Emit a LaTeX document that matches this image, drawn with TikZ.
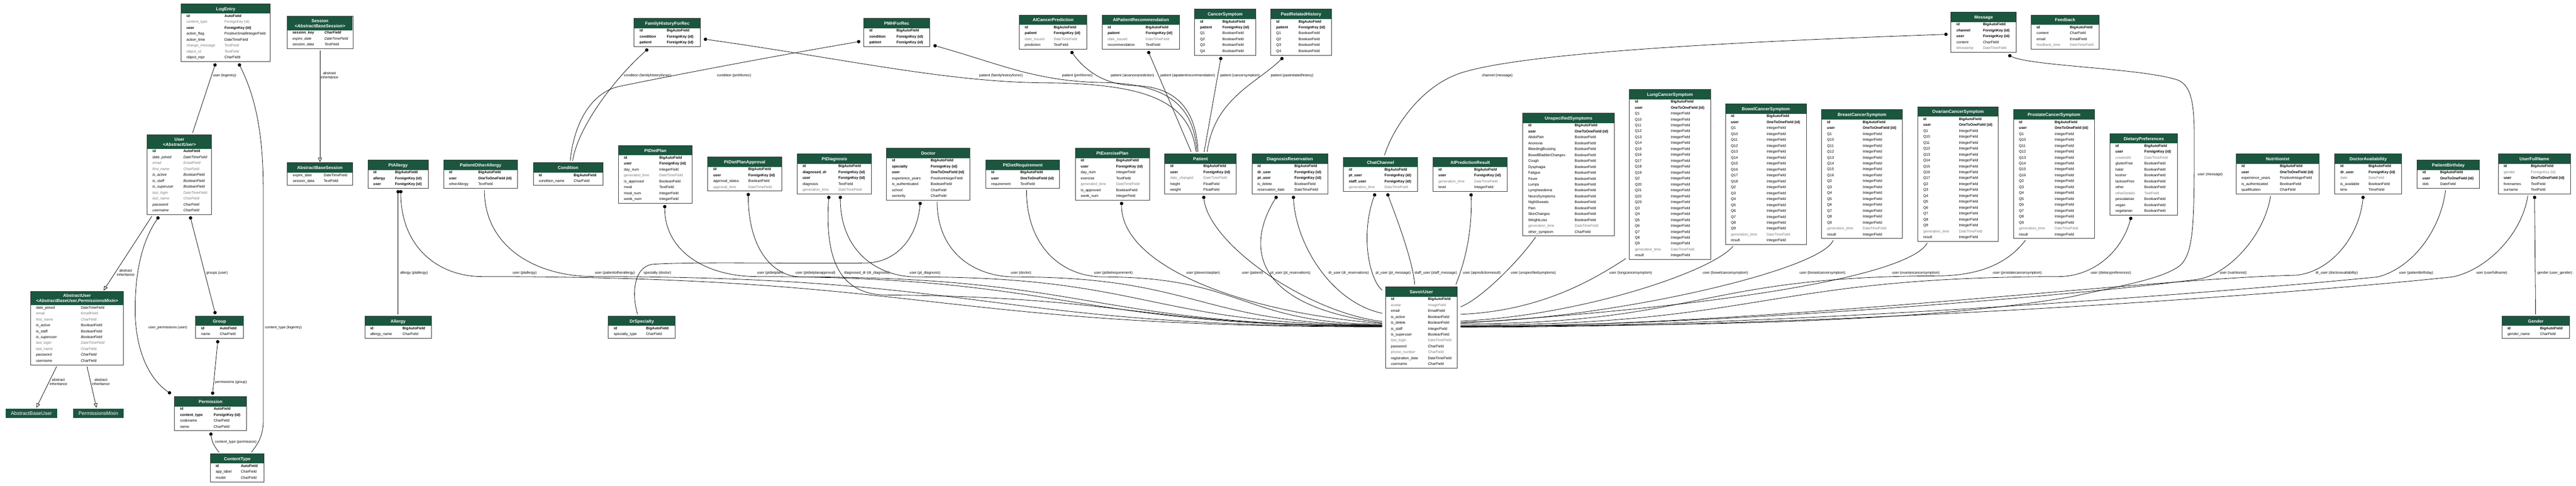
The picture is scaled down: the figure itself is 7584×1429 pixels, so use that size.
\documentclass[tikz,border=0pt]{standalone}
\usepackage{fontspec}
\setmainfont{Liberation Sans}
\usetikzlibrary{arrows.meta}

\definecolor{headgreen}{HTML}{1B563F}
\definecolor{fieldgray}{HTML}{7B7B7B}

% table: name, left, top, width, type column, extra header, title, subtitle, rows
\newcommand{\erbox}[9]{%
  \foreach \rname/\rtype/\rstyle [count = \k] in {#9} {
    \node (#1-n\k) at (#2 + 16, #3 + 39.8 + #6 + 17.4 * \k - 17.4) [erfield\rstyle] {\rname};
    \node (#1-t\k) at (#2 + #5, #3 + 39.8 + #6 + 17.4 * \k - 17.4) [erfield\rstyle] {\rtype};
    \xdef\errows{\k}
  }
  \fill [erhead] (#2 + 0.8, #3 + 0.8) rectangle (#2 + #4 - 0.8, #3 + 29 + #6);
  \node (#1-title) at (#2 + #4 / 2, #3 + 19.6 - #6 / 6) [ertitle] {#7};
  \node (#1-sub) at (#2 + #4 / 2, #3 + 32.6) [ertitle] {#8};
  \node (#1) at (#2, #3) [erframe, minimum width = #4pt, minimum height = {(31 + #6 + 17.4 * \errows) * 1pt}] {};
}
\newcommand{\erplain}[5]{%
  \node (#1) at (#2, #3) [erplainbox, minimum width = #4pt] {#5};
}

\begin{document}
\begin{tikzpicture}[x = 1pt, y = -1pt,
  erfield/.style = {inner sep = 0pt, anchor = base west, font = \fontsize{10.7}{12}\selectfont},
  erfieldn/.style = {erfield},
  erfieldb/.style = {erfield, font = \fontsize{10.7}{12}\selectfont\bfseries},
  erfieldi/.style = {erfield, font = \fontsize{10.7}{12}\selectfont\itshape},
  erfieldbi/.style = {erfield, font = \fontsize{10.7}{12}\selectfont\bfseries\itshape},
  erfieldg/.style = {erfield, text = fieldgray},
  erfieldgi/.style = {erfieldi, text = fieldgray},
  erframe/.style = {draw = black!80, line width = 1.5pt, inner sep = 0pt, outer sep = 0pt, anchor = north west},
  erhead/.style = {fill = headgreen},
  ertitle/.style = {text = white, inner sep = 0pt, anchor = base, font = \fontsize{13}{15}\selectfont\bfseries},
  erplainbox/.style = {fill = headgreen, text = white, inner sep = 0pt, outer sep = 0pt, anchor = north west, minimum height = 27pt, font = \fontsize{15}{17}\selectfont},
  fkdot/.style = {circle, fill = black, inner sep = 0pt, minimum size = 10pt},
  rel/.style = {line width = 1.2pt},
  inherit/.style = {line width = 1.2pt, -{Triangle[open, length = 13pt, width = 11pt]}},
  rellabel/.style = {inner sep = 0pt, anchor = base west, font = \fontsize{10.6}{12}\selectfont},
  inheritlabel/.style = {inner sep = 0pt, align = center, font = \fontsize{10.6}{12}\selectfont}]
\fill [white] (0, 0) rectangle (7584, 1429);
\useasboundingbox (0, 0) rectangle (7584, 1429);
%\draw [very thin, color = gray, step = 100] (0, 0) grid (7584, 1429);

% django tables
\erbox{logentry}{533}{11}{263}{128}{0}{LogEntry}{}{id/AutoField/b, content\_type/ForeignKey (id)/g, user/ForeignKey (id)/b, action\_flag/PositiveSmallIntegerField/n, action\_time/DateTimeField/n, change\_message/TextField/g, object\_id/TextField/g, object\_repr/CharField/n}
\erbox{user}{433}{397}{190}{107}{12}{User}{\textit{<AbstractUser>}}{id/AutoField/b, date\_joined/DateTimeField/i, email/EmailField/gi, first\_name/CharField/gi, is\_active/BooleanField/i, is\_staff/BooleanField/i, is\_superuser/BooleanField/i, last\_login/DateTimeField/gi, last\_name/CharField/gi, password/CharField/i, username/CharField/i}
\erbox{abstractuser}{90}{857}{274}{148}{12}{AbstractUser}{\textit{<AbstractBaseUser,PermissionsMixin>}}{date\_joined/DateTimeField/n, email/EmailField/g, first\_name/CharField/g, is\_active/BooleanField/n, is\_staff/BooleanField/n, is\_superuser/BooleanField/i, last\_login/DateTimeField/gi, last\_name/CharField/g, password/CharField/i, username/CharField/n}
\erplain{abstractbaseuser}{16}{1203}{153}{AbstractBaseUser}
\erplain{permissionsmixin}{215}{1203}{149}{PermissionsMixin}
\erbox{group}{576}{930}{140}{71}{0}{Group}{}{id/AutoField/b, name/CharField/n}
\erbox{permission}{514}{1167}{212}{115}{0}{Permission}{}{id/AutoField/b, content\_type/ForeignKey (id)/b, codename/CharField/n, name/CharField/n}
\erbox{contenttype}{619}{1335}{159}{90}{0}{ContentType}{}{id/AutoField/b, app\_label/CharField/n, model/CharField/n}
\erbox{session}{845}{48}{194}{110}{12}{Session}{\textit{<AbstractBaseSession>}}{session\_key/CharField/bi, expire\_date/DateTimeField/i, session\_data/TextField/i}
\erbox{abstractbasesession}{846}{479}{192}{107}{0}{AbstractBaseSession}{}{expire\_date/DateTimeField/n, session\_data/TextField/n}

% app tables
\erbox{ptallergy}{1083}{471}{178}{80}{0}{PtAllergy}{}{id/BigAutoField/b, allergy/ForeignKey (id)/b, user/ForeignKey (id)/b}
\erbox{allergy}{1074}{930}{196}{111}{0}{Allergy}{}{id/BigAutoField/b, allergy\_name/CharField/n}
\erbox{patientotherallergy}{1306}{471}{218}{102}{0}{PatientOtherAllergy}{}{id/BigAutoField/b, user/OneToOneField (id)/b, otherAllergy/TextField/n}
\erbox{condition}{1570}{479}{205}{119}{0}{Condition}{}{id/BigAutoField/b, condition\_name/CharField/n}
\erbox{familyhistoryforrec}{1867}{54}{195}{96}{0}{FamilyHistoryForRec}{}{id/BigAutoField/b, condition/ForeignKey (id)/b, patient/ForeignKey (id)/b}
\erbox{ptdietplan}{1821}{428}{217}{120}{0}{PtDietPlan}{}{id/BigAutoField/b, user/ForeignKey (id)/b, day\_num/IntegerField/n, generated\_time/DateTimeField/g, is\_approved/BooleanField/n, meal/TextField/n, meal\_num/IntegerField/n, week\_num/IntegerField/n}
\erbox{drspecialty}{1791}{930}{197}{111}{0}{DrSpecialty}{}{id/BigAutoField/b, specialty\_type/CharField/n}
\erbox{ptdietplanapproval}{2084}{462}{217}{119}{0}{PtDietPlanApproval}{}{id/BigAutoField/b, user/ForeignKey (id)/b, approval\_status/BooleanField/n, approval\_time/DateTimeField/g}
\erbox{ptdiagnosis}{2347}{453}{219}{121}{0}{PtDiagnosis}{}{id/BigAutoField/b, diagnosed\_dr/ForeignKey (id)/b, user/ForeignKey (id)/b, diagnosis/TextField/n, generation\_time/DateTimeField/g}
\erbox{doctor}{2610}{436}{246}{130}{0}{Doctor}{}{id/BigAutoField/b, specialty/ForeignKey (id)/b, user/OneToOneField (id)/b, experience\_years/PositiveIntegerField/n, is\_authenticated/BooleanField/n, school/CharField/n, seniority/CharField/n}
\erbox{pmhforrec}{2543}{54}{194}{96}{0}{PMHForRec}{}{id/BigAutoField/b, condition/ForeignKey (id)/b, patient/ForeignKey (id)/b}
\erbox{ptdietrequirement}{2902}{471}{218}{102}{0}{PtDietRequirement}{}{id/BigAutoField/b, user/OneToOneField (id)/b, requirement/TextField/n}
\erbox{ptexerciseplan}{3166}{436}{218}{120}{0}{PtExercisePlan}{}{id/BigAutoField/b, user/ForeignKey (id)/b, day\_num/IntegerField/n, exercise/TextField/n, generated\_time/DateTimeField/g, is\_approved/BooleanField/n, week\_num/IntegerField/n}
\erbox{aicancerprediction}{3001}{44}{199}{101}{0}{AICancerPrediction}{}{id/BigAutoField/b, patient/ForeignKey (id)/b, date\_issued/DateTimeField/g, prediction/TextField/n}
\erbox{aipatientrecommendation}{3245}{44}{228}{128}{0}{AIPatientRecommendation}{}{id/BigAutoField/b, patient/ForeignKey (id)/b, date\_issued/DateTimeField/g, recommendation/TextField/n}
\erbox{cancersymptom}{3517}{27}{180}{82}{0}{CancerSymptom}{}{id/BigAutoField/b, patient/ForeignKey (id)/b, Q1/BooleanField/n, Q2/BooleanField/n, Q3/BooleanField/n, Q4/BooleanField/n}
\erbox{pastrelatedhistory}{3741}{27}{179}{82}{0}{PastRelatedHistory}{}{id/BigAutoField/b, patient/ForeignKey (id)/b, Q1/BooleanField/n, Q2/BooleanField/n, Q3/BooleanField/n, Q4/BooleanField/n}
\erbox{patient}{3429}{453}{211}{114}{0}{Patient}{}{id/BigAutoField/b, user/ForeignKey (id)/b, date\_changed/DateTimeField/g, height/FloatField/n, weight/FloatField/n}
\erbox{diagnosisreservation}{3686}{453}{223}{125}{0}{DiagnosisReservation}{}{id/BigAutoField/b, dr\_user/ForeignKey (id)/b, pt\_user/ForeignKey (id)/b, is\_delete/BooleanField/n, reservation\_date/DateTimeField/n}
\erbox{chatchannel}{3955}{463}{219}{121}{0}{ChatChannel}{}{id/BigAutoField/b, pt\_user/ForeignKey (id)/b, staff\_user/ForeignKey (id)/b, generation\_time/DateTimeField/g}
\erbox{aipredictionresult}{4219}{463}{219}{121}{0}{AIPredictionResult}{}{id/BigAutoField/b, user/ForeignKey (id)/b, generation\_time/DateTimeField/g, level/IntegerField/n}
\erbox{savoiruser}{4079}{844}{211}{125}{0}{SavoirUser}{}{id/BigAutoField/b, avatar/ImageField/g, email/EmailField/n, is\_active/BooleanField/n, is\_delete/BooleanField/n, is\_staff/IntegerField/n, is\_superuser/BooleanField/n, last\_login/DateTimeField/g, password/CharField/n, phone\_number/CharField/g, registration\_date/DateTimeField/n, username/CharField/n}
\erbox{unspecifiedsymptoms}{4483}{333}{270}{153}{0}{UnspecifiedSymptoms}{}{id/BigAutoField/b, user/OneToOneField (id)/b, AbdoPain/BooleanField/n, Anorexia/BooleanField/n, BleedingBruising/BooleanField/n, BowelBladderChanges/BooleanField/n, Cough/BooleanField/n, Dysphagia/BooleanField/n, Fatigue/BooleanField/n, Fever/BooleanField/n, Lumps/BooleanField/n, Lymphoedema/BooleanField/n, NeuroSymptoms/BooleanField/n, NightSweats/BooleanField/n, Pain/BooleanField/n, SkinChanges/BooleanField/n, WeightLoss/BooleanField/n, generation\_time/DateTimeField/g, other\_symptom/CharField/n}
\erbox{lungcancersymptom}{4797}{263}{239}{122}{0}{LungCancerSymptom}{}{id/BigAutoField/b, user/OneToOneField (id)/b, Q1/IntegerField/n, Q10/IntegerField/n, Q11/IntegerField/n, Q12/IntegerField/n, Q13/IntegerField/n, Q14/IntegerField/n, Q15/IntegerField/n, Q16/IntegerField/n, Q17/IntegerField/n, Q18/IntegerField/n, Q19/IntegerField/n, Q2/IntegerField/n, Q20/IntegerField/n, Q21/IntegerField/n, Q22/IntegerField/n, Q23/IntegerField/n, Q3/IntegerField/n, Q4/IntegerField/n, Q5/IntegerField/n, Q6/IntegerField/n, Q7/IntegerField/n, Q8/IntegerField/n, Q9/IntegerField/n, generation\_time/DateTimeField/g, result/IntegerField/n}
\erbox{bowelcancersymptom}{5080}{306}{238}{121}{0}{BowelCancerSymptom}{}{id/BigAutoField/b, user/OneToOneField (id)/b, Q1/IntegerField/n, Q10/IntegerField/n, Q11/IntegerField/n, Q12/IntegerField/n, Q13/IntegerField/n, Q14/IntegerField/n, Q15/IntegerField/n, Q16/IntegerField/n, Q17/IntegerField/n, Q18/IntegerField/n, Q2/IntegerField/n, Q3/IntegerField/n, Q4/IntegerField/n, Q5/IntegerField/n, Q6/IntegerField/n, Q7/IntegerField/n, Q8/IntegerField/n, Q9/IntegerField/n, generation\_time/DateTimeField/g, result/IntegerField/n}
\erbox{breastcancersymptom}{5363}{323}{238}{121}{0}{BreastCancerSymptom}{}{id/BigAutoField/b, user/OneToOneField (id)/b, Q1/IntegerField/n, Q10/IntegerField/n, Q11/IntegerField/n, Q12/IntegerField/n, Q13/IntegerField/n, Q14/IntegerField/n, Q15/IntegerField/n, Q16/IntegerField/n, Q2/IntegerField/n, Q3/IntegerField/n, Q4/IntegerField/n, Q5/IntegerField/n, Q6/IntegerField/n, Q7/IntegerField/n, Q8/IntegerField/n, Q9/IntegerField/n, generation\_time/DateTimeField/g, result/IntegerField/n}
\erbox{ovariancancersymptom}{5646}{314}{237}{121}{0}{OvarianCancerSymptom}{}{id/BigAutoField/b, user/OneToOneField (id)/b, Q1/IntegerField/n, Q10/IntegerField/n, Q11/IntegerField/n, Q12/IntegerField/n, Q13/IntegerField/n, Q14/IntegerField/n, Q15/IntegerField/n, Q16/IntegerField/n, Q17/IntegerField/n, Q2/IntegerField/n, Q3/IntegerField/n, Q4/IntegerField/n, Q5/IntegerField/n, Q6/IntegerField/n, Q7/IntegerField/n, Q8/IntegerField/n, Q9/IntegerField/n, generation\_time/DateTimeField/g, result/IntegerField/n}
\erbox{prostatecancersymptom}{5928}{323}{238}{121}{0}{ProstateCancerSymptom}{}{id/BigAutoField/b, user/OneToOneField (id)/b, Q1/IntegerField/n, Q10/IntegerField/n, Q11/IntegerField/n, Q12/IntegerField/n, Q13/IntegerField/n, Q14/IntegerField/n, Q15/IntegerField/n, Q16/IntegerField/n, Q2/IntegerField/n, Q3/IntegerField/n, Q4/IntegerField/n, Q5/IntegerField/n, Q6/IntegerField/n, Q7/IntegerField/n, Q8/IntegerField/n, Q9/IntegerField/n, generation\_time/DateTimeField/g, result/IntegerField/n}
\erbox{message}{5744}{36}{192}{94}{0}{Message}{}{id/BigAutoField/b, channel/ForeignKey (id)/b, user/ForeignKey (id)/b, content/CharField/n, timestamp/DateTimeField/g}
\erbox{feedback}{5980}{44}{200}{114}{0}{Feedback}{}{id/BigAutoField/b, content/CharField/n, email/EmailField/n, feedback\_time/DateTimeField/g}
\erbox{dietarypreferences}{6212}{393}{199}{101}{0}{DietaryPreferences}{}{id/BigAutoField/b, user/ForeignKey (id)/b, createdAt/DateTimeField/g, glutenFree/BooleanField/n, halal/BooleanField/n, kosher/BooleanField/n, lactoseFree/BooleanField/n, other/BooleanField/n, otherDetails/TextField/g, pescatarian/BooleanField/n, vegan/BooleanField/n, vegetarian/BooleanField/n}
\erbox{nutritionist}{6583}{453}{245}{129}{0}{Nutritionist}{}{id/BigAutoField/b, user/OneToOneField (id)/b, experience\_years/PositiveIntegerField/n, is\_authenticated/BooleanField/n, qualification/CharField/n}
\erbox{doctoravailability}{6874}{453}{196}{99}{0}{DoctorAvailability}{}{id/BigAutoField/b, dr\_user/ForeignKey (id)/b, date/DateField/g, is\_available/BooleanField/n, time/TimeField/n}
\erbox{patientbirthday}{7116}{471}{184}{68}{0}{PatientBirthday}{}{id/BigAutoField/b, user/OneToOneField (id)/b, dob/DateField/n}
\erbox{userfullname}{7355}{453}{213}{96}{0}{UserFullName}{}{id/BigAutoField/b, gender/ForeignKey (id)/g, user/OneToOneField (id)/b, forenames/TextField/n, surname/TextField/n}
\erbox{gender}{7366}{930}{199}{112}{0}{Gender}{}{id/BigAutoField/b, gender\_name/CharField/n}

% dots
\node (logentry-user) at ([shift = {(100, 10)}]logentry.south west) [fkdot] {};
\node (logentry-ct) at ([shift = {(172, 10)}]logentry.south west) [fkdot] {};
\node (user-perm) at ([shift = {(32, 10)}]user.south west) [fkdot] {};
\node (user-groups) at ([shift = {(128, 10)}]user.south west) [fkdot] {};
\node (group-users) at ([shift = {(57, -10)}]group.north west) [fkdot] {};
\node (group-perm) at ([shift = {(65, 10)}]group.south west) [fkdot] {};
\node (perm-group) at ([shift = {(112, -10)}]permission.north west) [fkdot] {};
\node (perm-user) at ([shift = {(-15, -11)}]permission.north west) [fkdot] {};
\node (perm-ct) at ([shift = {(107, 10)}]permission.south west) [fkdot] {};
\node (ptallergy-allergy) at ([shift = {(89, 10)}]ptallergy.south west) [fkdot] {};
\node (ptallergy-user) at ([shift = {(97, 10)}]ptallergy.south west) [fkdot] {};
\node (fh-condition) at ([shift = {(37, 10)}]familyhistoryforrec.south west) [fkdot] {};
\node (fh-patient) at ([shift = {(15, 20)}]familyhistoryforrec.east) [fkdot] {};
\node (pmh-condition) at ([shift = {(-15, 27)}]pmhforrec.west) [fkdot] {};
\node (pmh-patient) at ([shift = {(16, 39)}]pmhforrec.east) [fkdot] {};
\node (ptdietplan-user) at ([shift = {(136, 10)}]ptdietplan.south west) [fkdot] {};
\node (approval-user) at ([shift = {(119, 10)}]ptdietplanapproval.south west) [fkdot] {};
\node (diagnosis-dr) at ([shift = {(93, 10)}]ptdiagnosis.south west) [fkdot] {};
\node (diagnosis-user) at ([shift = {(127, 10)}]ptdiagnosis.south west) [fkdot] {};
\node (doctor-specialty) at ([shift = {(99, 10)}]doctor.south west) [fkdot] {};
\node (exercise-user) at ([shift = {(136, 10)}]ptexerciseplan.south west) [fkdot] {};
\node (aicancer-patient) at ([shift = {(155, 10)}]aicancerprediction.south west) [fkdot] {};
\node (airec-patient) at ([shift = {(137, 10)}]aipatientrecommendation.south west) [fkdot] {};
\node (cancersymptom-patient) at ([shift = {(77, 10)}]cancersymptom.south west) [fkdot] {};
\node (pasthistory-patient) at ([shift = {(33, 10)}]pastrelatedhistory.south west) [fkdot] {};
\node (patient-user) at ([shift = {(115, 10)}]patient.south west) [fkdot] {};
\node (reservation-pt) at ([shift = {(71, 10)}]diagnosisreservation.south west) [fkdot] {};
\node (reservation-dr) at ([shift = {(122, 10)}]diagnosisreservation.south west) [fkdot] {};
\node (channel-pt) at ([shift = {(92, 10)}]chatchannel.south west) [fkdot] {};
\node (channel-staff) at ([shift = {(131, 10)}]chatchannel.south west) [fkdot] {};
\node (prediction-user) at ([shift = {(112, 10)}]aipredictionresult.south west) [fkdot] {};
\node (message-channel) at ([shift = {(-15, 6)}]message.west) [fkdot] {};
\node (message-user) at ([shift = {(173, 10)}]message.south west) [fkdot] {};
\node (dietary-user) at ([shift = {(61, 10)}]dietarypreferences.south west) [fkdot] {};
\node (availability-dr) at ([shift = {(83, 10)}]doctoravailability.south west) [fkdot] {};
\node (fullname-gender) at ([shift = {(107, 10)}]userfullname.south west) [fkdot] {};

% django relations
\draw [rel] (logentry-user) -- ([shift = {(134, -6)}]user.north west);
\draw [rel] (logentry-ct) .. controls (760, 300) and (775, 420) .. (775, 560) -- (775, 1240) .. controls (775, 1290) and (752, 1315) .. ([shift = {(121, -4)}]contenttype.north west);
\draw [rel] (user-groups) -- (group-users);
\draw [rel] (user-perm) .. controls (405, 730) and (398, 840) .. (398, 912) .. controls (398, 1040) and (445, 1120) .. (perm-user);
\draw [rel] (group-perm) -- (perm-group);
\draw [rel] (perm-ct) .. controls (624, 1305) and (636, 1320) .. ([shift = {(26, -4)}]contenttype.north west);
\draw [inherit] ([shift = {(14, 5)}]user.south west) -- ([shift = {(215, -2)}]abstractuser.north west);
\draw [inherit] ([shift = {(77, 4)}]abstractuser.south west) -- ([shift = {(91, -3)}]abstractbaseuser.north west);
\draw [inherit] ([shift = {(166, 4)}]abstractuser.south west) -- ([shift = {(69, -3)}]permissionsmixin.north west);
\draw [inherit] ([shift = {(97, 5)}]session.south west) -- ([shift = {(96, -2)}]abstractbasesession.north west);

% app relations
\draw [rel] (ptallergy-allergy) -- ([shift = {(98, -5)}]allergy.north west);
\draw [rel] (fh-condition) .. controls (1800, 240) and (1700, 380) .. ([shift = {(116, -6)}]condition.north west);
\draw [rel] (pmh-condition) .. controls (2250, 170) and (1950, 228) .. (1820, 255) .. controls (1720, 280) and (1685, 400) .. ([shift = {(109, -6)}]condition.north west);
\draw [rel] (doctor-specialty) .. controls (2700, 700) and (2640, 772) .. (2550, 774) .. controls (2300, 776) and (2020, 770) .. (1920, 778) .. controls (1868, 786) and (1858, 860) .. ([shift = {(86, -5)}]drspecialty.north west);
\draw [rel] (fh-patient) .. controls (2500, 175) and (2800, 245) .. (3100, 244) .. controls (3380, 249) and (3505, 300) .. ([shift = {(92, -6)}]patient.north west);
\draw [rel] (pmh-patient) .. controls (2950, 190) and (3050, 240) .. (3250, 243) .. controls (3450, 247) and (3515, 320) .. ([shift = {(95, -6)}]patient.north west);
\draw [rel] (aicancer-patient) .. controls (3200, 215) and (3260, 250) .. (3340, 252) .. controls (3470, 255) and (3522, 330) .. ([shift = {(98, -6)}]patient.north west);
\draw [rel] (airec-patient) -- ([shift = {(78, -6)}]patient.north west);
\draw [rel] (cancersymptom-patient) -- ([shift = {(116, -6)}]patient.north west);
\draw [rel] (pasthistory-patient) .. controls (3700, 245) and (3575, 290) .. ([shift = {(125, -6)}]patient.north west);
\draw [rel] (message-channel) .. controls (5200, 120) and (4500, 150) .. (4300, 215) .. controls (4180, 255) and (4100, 380) .. ([shift = {(121, -6)}]chatchannel.north west);
\draw [rel] (fullname-gender) -- ([shift = {(99, -5)}]gender.north west);

% into savoiruser, left
\draw [rel] (ptallergy-user) .. controls (1180, 725) and (1288, 814) .. (1420, 814) .. controls (2744, 814) and (2744, 962) .. ([shift = {(-10, 118)}]savoiruser.north west);
\draw [rel] ([shift = {(120, 5)}]patientotherallergy.south west) .. controls (1426, 723) and (1572, 814) .. (1750, 814) .. controls (2910, 814) and (2910, 961) .. ([shift = {(-10, 117)}]savoiruser.north west);
\draw [rel] (ptdietplan-user) .. controls (1957, 740) and (2079, 814) .. (2229, 814) .. controls (3149, 814) and (3149, 960) .. ([shift = {(-10, 116)}]savoiruser.north west);
\draw [rel] (approval-user) .. controls (2203, 731) and (2274, 815) .. (2360, 815) .. controls (3215, 815) and (3215, 959) .. ([shift = {(-10, 115)}]savoiruser.north west);
\draw [rel] (diagnosis-dr) .. controls (2428, 760) and (2470, 862) .. (2600, 868) .. controls (3345, 874) and (3345, 958) .. ([shift = {(-10, 114)}]savoiruser.north west);
\draw [rel] (diagnosis-user) .. controls (2474, 733) and (2576, 815) .. (2700, 815) .. controls (3385, 815) and (3385, 957) .. ([shift = {(-10, 113)}]savoiruser.north west);
\draw [rel] ([shift = {(149, 5)}]doctor.south west) .. controls (2759, 738) and (2863, 815) .. (2990, 815) .. controls (3530, 815) and (3530, 956) .. ([shift = {(-10, 112)}]savoiruser.north west);
\draw [rel] ([shift = {(120, 5)}]ptdietrequirement.south west) .. controls (3022, 725) and (3125, 815) .. (3250, 815) .. controls (3660, 815) and (3660, 954) .. ([shift = {(-10, 110)}]savoiruser.north west);
\draw [rel] (exercise-user) .. controls (3300, 780) and (3650, 920) .. ([shift = {(-10, 108)}]savoiruser.north west);
\draw [rel] (patient-user) .. controls (3560, 720) and (3850, 920) .. ([shift = {(-10, 102)}]savoiruser.north west);
\draw [rel] (reservation-pt) .. controls (3670, 720) and (3680, 900) .. ([shift = {(-10, 106)}]savoiruser.north west);
\draw [rel] (reservation-dr) .. controls (3815, 720) and (3920, 890) .. ([shift = {(-10, 78)}]savoiruser.north west);
\draw [rel] (channel-pt) .. controls (4005, 690) and (4030, 820) .. ([shift = {(-10, 10)}]savoiruser.north west);
\draw [rel] (channel-staff) .. controls (4115, 650) and (4160, 770) .. ([shift = {(86, -6)}]savoiruser.north west);
\draw [rel] (prediction-user) .. controls (4335, 700) and (4305, 790) .. ([shift = {(207, -6)}]savoiruser.north west);

% into savoiruser, right
\draw [rel] ([shift = {(38, 3)}]unspecifiedsymptoms.south west) .. controls (4470, 770) and (4360, 880) .. ([shift = {(10, 59)}]savoiruser.north east);
\draw [rel] ([shift = {(-10, -3)}]lungcancersymptom.south west) .. controls (4710, 810) and (4550, 915) .. ([shift = {(10, 81)}]savoiruser.north east);
\draw [rel] ([shift = {(22, 5)}]bowelcancersymptom.south west) .. controls (5040, 800) and (4650, 930) .. ([shift = {(10, 101)}]savoiruser.north east);
\draw [rel] ([shift = {(34, 5)}]breastcancersymptom.south west) .. controls (5360, 800) and (4700, 945) .. ([shift = {(10, 104)}]savoiruser.north east);
\draw [rel] ([shift = {(28, 5)}]ovariancancersymptom.south west) .. controls (5620, 810) and (5100, 900) .. ([shift = {(10, 107)}]savoiruser.north east);
\draw [rel] ([shift = {(35, 5)}]prostatecancersymptom.south west) .. controls (5900, 790) and (5800, 812) .. (5700, 812) .. controls (5000, 814) and (5000, 953) .. ([shift = {(10, 109)}]savoiruser.north east);
\draw [rel] (dietary-user) .. controls (6245, 745) and (6160, 814) .. (6060, 814) .. controls (5190, 816) and (5190, 957) .. ([shift = {(10, 113)}]savoiruser.north east);
\draw [rel] (message-user) .. controls (5980, 195) and (6300, 200) .. (6410, 235) .. controls (6450, 250) and (6460, 300) .. (6460, 400) .. controls (6460, 650) and (6460, 740) .. (6420, 780) .. controls (6370, 820) and (6250, 840) .. (6100, 873) .. controls (5600, 960) and (4800, 958) .. ([shift = {(10, 115)}]savoiruser.north east);
\draw [rel] ([shift = {(102, 5)}]nutritionist.south west) .. controls (6665, 700) and (6555, 810) .. (6470, 822) .. controls (6100, 872) and (5000, 962) .. ([shift = {(10, 116)}]savoiruser.north east);
\draw [rel] (availability-dr) .. controls (6945, 700) and (6860, 800) .. (6760, 810) .. controls (6300, 820) and (5200, 961) .. ([shift = {(10, 117)}]savoiruser.north east);
\draw [rel] ([shift = {(84, 5)}]patientbirthday.south west) .. controls (7185, 680) and (7100, 790) .. (7000, 815) .. controls (6600, 855) and (5300, 962) .. ([shift = {(10, 118)}]savoiruser.north east);
\draw [rel] ([shift = {(87, 5)}]userfullname.south west) .. controls (7425, 690) and (7320, 795) .. (7220, 815) .. controls (6700, 870) and (5400, 963) .. ([shift = {(10, 119)}]savoiruser.north east);

% labels
\node (l-logentry-user) at (627, 225) [rellabel] {user (logentry)};
\node (l-fh-condition) at (1837, 225) [rellabel] {condition (familyhistoryforrec)};
\node (l-pmh-condition) at (2111, 225) [rellabel] {condition (pmhforrec)};
\node (l-fh-patient) at (2883, 225) [rellabel] {patient (familyhistoryforrec)};
\node (l-pmh-patient) at (3127, 225) [rellabel] {patient (pmhforrec)};
\node (l-aicancer) at (3270, 225) [rellabel] {patient (aicancerprediction)};
\node (l-airec) at (3416, 225) [rellabel] {patient (aipatientrecommendation)};
\node (l-cancersymptom) at (3592, 225) [rellabel] {patient (cancersymptom)};
\node (l-pasthistory) at (3741, 225) [rellabel] {patient (pastrelatedhistory)};
\node (l-channel) at (4363, 225) [rellabel] {channel (message)};
\node (l-message-user) at (6470, 516) [rellabel] {user (message)};
\node (l-groups) at (607, 806) [rellabel] {groups (user)};
\node (l-allergy) at (1178, 806) [rellabel] {allergy (ptallergy)};
\node (l-ptallergy) at (1509, 806) [rellabel] {user (ptallergy)};
\node (l-otherallergy) at (1751, 806) [rellabel] {user (patientotherallergy)};
\node (l-specialty) at (1895, 806) [rellabel] {specialty (doctor)};
\node (l-ptdietplan) at (2229, 806) [rellabel] {user (ptdietplan)};
\node (l-approval) at (2342, 806) [rellabel] {user (ptdietplanapproval)};
\node (l-diagnosis-dr) at (2485, 806) [rellabel] {diagnosed\_dr (dr\_diagnosis)};
\node (l-diagnosis-user) at (2678, 806) [rellabel] {user (pt\_diagnosis)};
\node (l-doctor) at (2976, 806) [rellabel] {user (doctor)};
\node (l-requirement) at (3221, 806) [rellabel] {user (ptdietrequirement)};
\node (l-exercise) at (3492, 806) [rellabel] {user (ptexerciseplan)};
\node (l-patient) at (3656, 806) [rellabel] {user (patient)};
\node (l-reservation-pt) at (3740, 806) [rellabel] {pt\_user (pt\_reservations)};
\node (l-reservation-dr) at (3911, 806) [rellabel] {dr\_user (dr\_reservations)};
\node (l-channel-pt) at (4050, 806) [rellabel] {pt\_user (pt\_message)};
\node (l-channel-staff) at (4164, 806) [rellabel] {staff\_user (staff\_message)};
\node (l-prediction) at (4307, 806) [rellabel] {user (aipredictionresult)};
\node (l-unspecified) at (4448, 806) [rellabel] {user (unspecifiedsymptoms)};
\node (l-lung) at (4738, 806) [rellabel] {user (lungcancersymptom)};
\node (l-bowel) at (5013, 806) [rellabel] {user (bowelcancersymptom)};
\node (l-breast) at (5298, 806) [rellabel] {user (breastcancersymptom)};
\node (l-ovarian) at (5570, 806) [rellabel] {user (ovariancancersymptom)};
\node (l-prostate) at (5867, 806) [rellabel] {user (prostatecancersymptom)};
\node (l-dietary) at (6155, 806) [rellabel] {user (dietarypreferences)};
\node (l-nutritionist) at (6535, 806) [rellabel] {user (nutritionist)};
\node (l-availability) at (6817, 806) [rellabel] {dr\_user (doctoravailability)};
\node (l-birthday) at (7063, 806) [rellabel] {user (patientbirthday)};
\node (l-fullname) at (7290, 806) [rellabel] {user (userfullname)};
\node (l-gender) at (7470, 806) [rellabel] {gender (user\_gender)};
\node (l-user-perm) at (437, 967) [rellabel] {user\_permissions (user)};
\node (l-logentry-ct) at (780, 967) [rellabel] {content\_type (logentry)};
\node (l-group-perm) at (633, 1128) [rellabel] {permissions (group)};
\node (l-perm-ct) at (633, 1304) [rellabel] {content\_type (permission)};
\node (l-inh-user) at (370, 802) [inheritlabel] {abstract\\inheritance};
\node (l-inh-session) at (970, 221) [inheritlabel] {abstract\\inheritance};
\node (l-inh-base) at (172, 1124) [inheritlabel] {abstract\\inheritance};
\node (l-inh-mixin) at (297, 1124) [inheritlabel] {abstract\\inheritance};
\end{tikzpicture}
\end{document}
